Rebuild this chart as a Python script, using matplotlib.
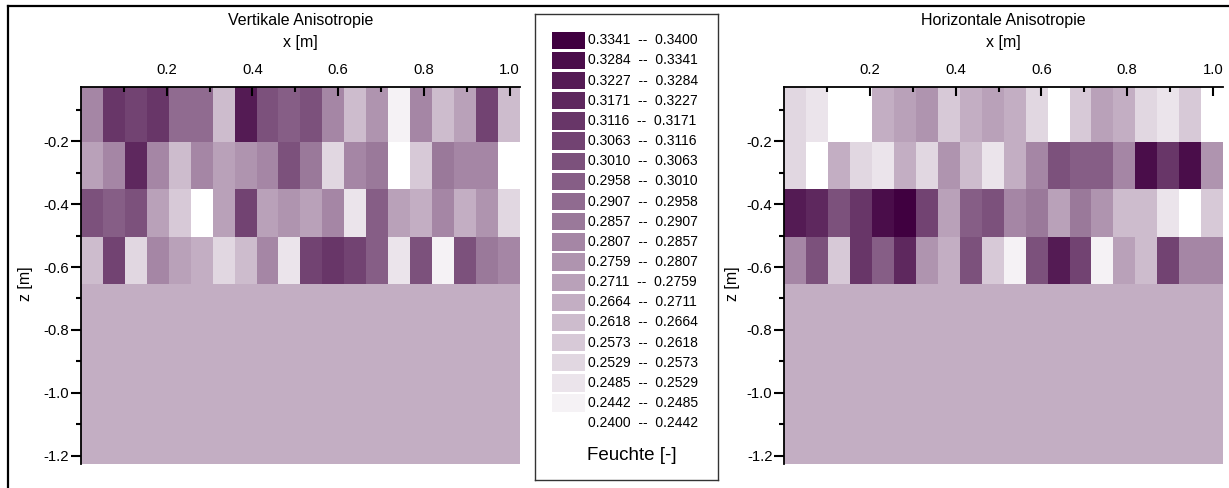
import numpy as np
import matplotlib
matplotlib.use("Agg")
import matplotlib.pyplot as plt
from matplotlib.colors import ListedColormap, BoundaryNorm
from matplotlib.patches import Rectangle
from matplotlib.lines import Line2D
from matplotlib.ticker import MultipleLocator, FixedLocator

plt.rcParams["font.family"] = ["Liberation Sans", "DejaVu Sans"]
plt.rcParams["axes.unicode_minus"] = False

# Moisture class edges (Feuchte [-])
class_edges = [0.2400, 0.2442, 0.2485, 0.2529, 0.2573, 0.2618, 0.2664,
               0.2711, 0.2759, 0.2807, 0.2857, 0.2907, 0.2958, 0.3010,
               0.3063, 0.3116, 0.3171, 0.3227, 0.3284, 0.3341, 0.3400]

# Layer boundaries in depth z [m] (top to bottom)
layer_bounds = [-0.028, -0.201, -0.353, -0.504, -0.653]
lower_bound = -1.228
x_extent = 1.024

# Moisture per cell, rows from top layer downwards, 20 columns along x
vertikal = [
    [0.283, 0.314, 0.309, 0.314, 0.293, 0.293, 0.264, 0.326, 0.304, 0.298,
     0.304, 0.283, 0.264, 0.278, 0.246, 0.283, 0.264, 0.274, 0.309, 0.264],
    [0.274, 0.283, 0.320, 0.283, 0.264, 0.283, 0.274, 0.278, 0.283, 0.304,
     0.288, 0.255, 0.283, 0.288, 0.242, 0.260, 0.288, 0.283, 0.283, 0.242],
    [0.304, 0.298, 0.304, 0.274, 0.260, 0.242, 0.274, 0.309, 0.274, 0.278,
     0.274, 0.283, 0.251, 0.298, 0.274, 0.269, 0.283, 0.269, 0.278, 0.255],
    [0.264, 0.309, 0.255, 0.283, 0.274, 0.269, 0.255, 0.264, 0.283, 0.251,
     0.309, 0.314, 0.309, 0.298, 0.251, 0.304, 0.246, 0.304, 0.288, 0.283],
]
horizontal = [
    [0.255, 0.251, 0.242, 0.242, 0.269, 0.274, 0.278, 0.260, 0.269, 0.274,
     0.269, 0.255, 0.242, 0.260, 0.274, 0.269, 0.255, 0.251, 0.260, 0.242],
    [0.255, 0.242, 0.269, 0.255, 0.251, 0.269, 0.255, 0.278, 0.264, 0.251,
     0.269, 0.283, 0.304, 0.298, 0.298, 0.283, 0.331, 0.314, 0.331, 0.278],
    [0.326, 0.320, 0.304, 0.314, 0.331, 0.337, 0.309, 0.274, 0.298, 0.304,
     0.283, 0.288, 0.274, 0.288, 0.278, 0.264, 0.264, 0.251, 0.242, 0.260],
    [0.283, 0.304, 0.260, 0.314, 0.298, 0.320, 0.278, 0.269, 0.304, 0.260,
     0.246, 0.304, 0.326, 0.309, 0.246, 0.274, 0.264, 0.309, 0.283, 0.283],
]
# Homogeneous lower zone
unterer_bereich = 0.269

titles = ["Vertikale Anisotropie", "Horizontale Anisotropie"]
panels = [vertikal, horizontal]

# Colour ramp from white to dark purple, one colour per class
n_cls = len(class_edges) - 1
white = np.array([1.0, 1.0, 1.0])
dark = np.array([0x40, 0x00, 0x40]) / 255.0
colors = [tuple(white + (dark - white) * i / (n_cls - 1)) for i in range(n_cls)]
cmap = ListedColormap(colors)
norm = BoundaryNorm(class_edges, n_cls)

W, H = 1229, 488
fig = plt.figure(figsize=(W / 100, H / 100), dpi=100)


def fx(px):
    return px / W


def fy(py):
    return 1 - py / H


ax_left_px = [81.0, 784.3]
ax_w_px = 438.8
ax_top_px, ax_bot_px = 87.3, 464.3

for k, (data, title) in enumerate(zip(panels, titles)):
    ax = fig.add_axes([fx(ax_left_px[k]), fy(ax_bot_px),
                       ax_w_px / W, (ax_bot_px - ax_top_px) / H])
    vals = np.array(data)
    ncol = vals.shape[1]
    xe = np.linspace(0, x_extent, ncol + 1)
    ax.pcolormesh(xe, layer_bounds, vals, cmap=cmap, norm=norm,
                  edgecolors="none", antialiased=False)
    ax.pcolormesh([0, x_extent], [layer_bounds[-1], lower_bound],
                  [[unterer_bereich]], cmap=cmap, norm=norm,
                  edgecolors="none", antialiased=False)
    ax.set_xlim(0, x_extent)
    ax.set_ylim(lower_bound, layer_bounds[0])

    for s in ["right", "bottom"]:
        ax.spines[s].set_visible(False)
    for s in ["left", "top"]:
        ax.spines[s].set_linewidth(1.3)
        ax.spines[s].set_color("black")

    ax.xaxis.set_major_locator(FixedLocator([0.2, 0.4, 0.6, 0.8, 1.0]))
    ax.xaxis.set_minor_locator(FixedLocator([0.1, 0.3, 0.5, 0.7, 0.9]))
    ax.yaxis.set_major_locator(FixedLocator([-0.2, -0.4, -0.6, -0.8, -1.0, -1.2]))
    ax.yaxis.set_minor_locator(FixedLocator([-0.1, -0.3, -0.5, -0.7, -0.9, -1.1]))
    ax.xaxis.set_major_formatter(plt.FuncFormatter(lambda v, p: f"{v:.1f}"))
    ax.yaxis.set_major_formatter(plt.FuncFormatter(lambda v, p: f"{v:.1f}"))

    ax.tick_params(axis="x", which="both", top=True, bottom=False,
                   labeltop=True, labelbottom=False, direction="in",
                   width=1.5, labelsize=10.7, pad=7.5)
    ax.tick_params(axis="x", which="major", length=6.5)
    ax.tick_params(axis="x", which="minor", length=3.6)
    ax.tick_params(axis="y", which="both", left=True, right=False,
                   direction="out", width=1.5, labelsize=10.7, pad=1.5)
    ax.tick_params(axis="y", which="major", length=7)
    ax.tick_params(axis="y", which="minor", length=3.6)

    ax.xaxis.set_label_position("top")
    ax.set_xlabel("x [m]", fontsize=11.5)
    ax.xaxis.set_label_coords(0.5, 1 + (ax_top_px - 43) / (ax_bot_px - ax_top_px))
    ax.xaxis.label.set_va("center")
    ax.set_ylabel("z [m]", fontsize=11.5)
    ax.yaxis.set_label_coords([-0.127, -0.117][k], 0.48)
    ax.yaxis.label.set_va("center")
    ax.text(0.5, 1 + (ax_top_px - 20) / (ax_bot_px - ax_top_px), title,
            transform=ax.transAxes, ha="center", va="center", fontsize=11.5)

# Class legend box
lg_l, lg_r, lg_t, lg_b = 535, 718, 14, 480
lax = fig.add_axes([fx(lg_l), fy(lg_b), (lg_r - lg_l) / W, (lg_b - lg_t) / H])
lax.set_xlim(0, lg_r - lg_l)
lax.set_ylim(lg_b - lg_t, 0)
lax.set_xticks([])
lax.set_yticks([])
for s in lax.spines.values():
    s.set_linewidth(1.0)
    s.set_color("#333333")

row_pitch = 20.15
first_top = 17.7
sw_h = 17.3
for j in range(n_cls):
    cls = n_cls - 1 - j
    top = first_top + j * row_pitch
    lax.add_patch(Rectangle((17, top), 33, sw_h, facecolor=cmap(cls),
                            edgecolor="none"))
    lax.text(53, top + sw_h / 2,
             f"{class_edges[cls]:.4f}  --  {class_edges[cls + 1]:.4f}",
             ha="left", va="center", fontsize=10)
lax.text(97, 442, "Feuchte [-]", ha="center", va="center", fontsize=13.5)

# Outer frame (top and left edges)
fig.add_artist(Line2D([fx(7.5), 1.0], [fy(5.5), fy(5.5)], color="black",
                      linewidth=1.6, transform=fig.transFigure))
fig.add_artist(Line2D([fx(7.5), fx(7.5)], [fy(5.5), 0.0], color="black",
                      linewidth=1.6, transform=fig.transFigure))

fig.savefig("out.png", dpi=100)
